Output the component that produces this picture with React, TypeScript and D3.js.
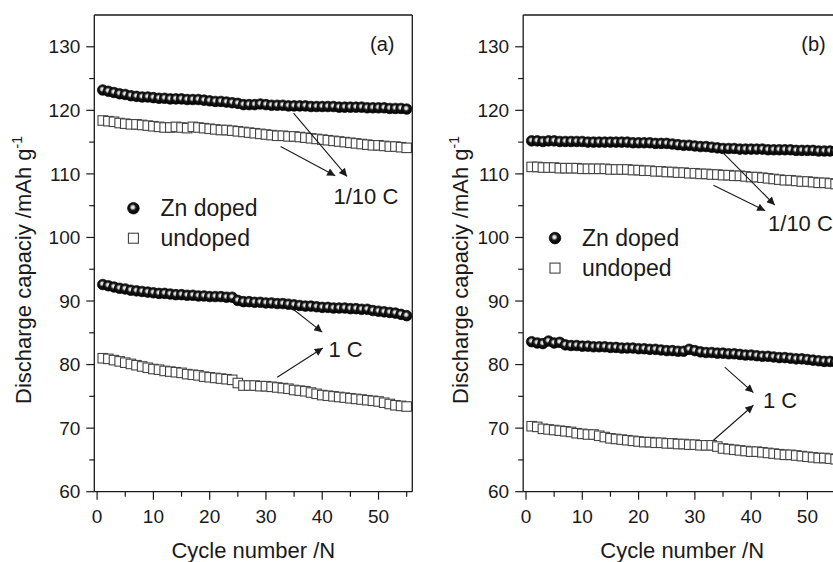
import React from "react";
import * as d3 from "d3";

// ---------- data ----------
const cycles = Array.from({ length: 55 }, (_, i) => i + 1);

const aZn10 = [123.2,123.0,122.8,122.6,122.5,122.3,122.2,122.1,122.1,122.0,
 121.9,121.9,121.8,121.8,121.8,121.7,121.7,121.7,121.6,121.5,
 121.4,121.4,121.3,121.2,121.1,120.9,120.9,120.9,121.0,120.9,
 120.8,120.8,120.8,120.7,120.7,120.7,120.7,120.6,120.6,120.6,
 120.6,120.6,120.5,120.5,120.5,120.5,120.5,120.4,120.4,120.4,
 120.4,120.3,120.3,120.3,120.2];
const aUn10 = [118.4,118.3,118.2,118.0,117.9,117.8,117.8,117.7,117.6,117.5,
 117.4,117.3,117.3,117.4,117.3,117.2,117.4,117.3,117.2,117.1,
 117.0,116.9,116.9,116.8,116.7,116.6,116.5,116.4,116.3,116.2,
 116.1,116.0,116.0,115.9,115.9,115.8,115.7,115.6,115.5,115.4,
 115.3,115.2,115.1,115.0,114.9,114.8,114.7,114.6,114.5,114.5,
 114.4,114.3,114.3,114.2,114.1];
const aZn1 = [92.6,92.4,92.2,92.0,91.9,91.7,91.6,91.5,91.4,91.3,
 91.2,91.2,91.1,91.0,91.0,90.9,90.9,90.8,90.8,90.7,
 90.7,90.7,90.6,90.6,90.1,89.9,89.9,89.8,89.8,89.7,
 89.7,89.6,89.6,89.5,89.4,89.3,89.2,89.2,89.1,89.0,
 89.0,88.9,88.9,88.9,88.8,88.8,88.7,88.7,88.5,88.4,
 88.3,88.2,88.1,87.9,87.7];
const aUn1 = [81.0,80.9,80.7,80.5,80.3,80.1,79.9,79.7,79.5,79.3,
 79.2,79.0,78.9,78.8,78.7,78.5,78.4,78.3,78.1,78.0,
 77.9,77.8,77.7,77.6,77.1,76.7,76.7,76.7,76.6,76.6,
 76.5,76.4,76.3,76.2,76.0,75.9,75.8,75.6,75.4,75.2,
 75.1,75.0,74.9,74.8,74.7,74.6,74.5,74.4,74.3,74.2,
 74.0,73.8,73.6,73.5,73.4];

const bZn10 = [115.2,115.2,115.1,115.2,115.2,115.1,115.1,115.1,115.1,115.1,
 115.0,115.0,115.0,115.0,115.0,115.0,115.0,115.0,114.9,114.9,
 114.9,114.9,114.8,114.8,114.8,114.7,114.6,114.5,114.5,114.4,
 114.3,114.3,114.2,114.1,114.0,114.0,114.0,113.9,113.9,113.9,
 113.9,113.9,113.8,113.8,113.8,113.8,113.8,113.7,113.7,113.7,
 113.7,113.6,113.6,113.6,113.6];
const bUn10 = [111.1,111.1,111.0,111.0,111.0,110.9,110.9,110.9,110.9,110.8,
 110.8,110.8,110.8,110.8,110.7,110.7,110.7,110.7,110.6,110.6,
 110.5,110.5,110.4,110.4,110.3,110.3,110.2,110.2,110.1,110.1,
 110.0,110.0,109.9,109.9,109.8,109.8,109.7,109.7,109.6,109.5,
 109.5,109.4,109.3,109.2,109.1,109.0,109.0,108.9,108.8,108.8,
 108.7,108.6,108.6,108.5,108.4];
const bZn1 = [83.6,83.4,83.3,83.7,83.4,83.5,83.1,83.0,83.0,82.9,
 82.9,82.8,82.8,82.8,82.7,82.7,82.6,82.6,82.6,82.5,
 82.5,82.4,82.4,82.3,82.2,82.2,82.1,82.1,82.4,82.2,
 82.0,81.9,81.9,81.8,81.8,81.7,81.7,81.6,81.5,81.5,
 81.4,81.3,81.3,81.2,81.1,81.1,81.0,80.9,80.9,80.8,
 80.7,80.6,80.5,80.5,80.4];
const bUn1 = [70.3,70.2,69.9,69.8,69.7,69.6,69.5,69.4,69.2,69.1,
 69.0,69.0,68.8,68.6,68.4,68.3,68.2,68.1,68.0,67.9,
 67.8,67.8,67.7,67.7,67.6,67.6,67.5,67.5,67.4,67.4,
 67.3,67.3,67.3,67.1,66.8,66.7,66.6,66.5,66.4,66.3,
 66.3,66.2,66.1,66.0,65.9,65.8,65.8,65.7,65.6,65.5,
 65.4,65.3,65.3,65.2,65.1];

const xMajorTicks = [0, 10, 20, 30, 40, 50];
const xMinorTicks = [5, 15, 25, 35, 45, 55];
const yMajorTicks = [60, 70, 80, 90, 100, 110, 120, 130];
const yMinorTicks = [65, 75, 85, 95, 105, 115, 125];

const legendLabels = ["Zn doped", "undoped"];
const xTitle = "Cycle number /N";
const yTitle = "Discharge capaciy /mAh g";

// annotations in data units: [x1,y1,x2,y2]
const aArrows = [
  [34.9, 119.55, 44.4, 109.6],
  [32.6, 114.3, 42.3, 109.7],
  [34.0, 89.3, 40.0, 85.1],
  [32.0, 78.0, 40.1, 82.6],
];
const bArrows = [
  [34.8, 113.5, 44.2, 105.1],
  [33.3, 108.2, 42.5, 104.2],
  [35.3, 79.6, 40.4, 75.6],
  [33.3, 68.1, 40.4, 73.6],
];
const aTexts = [
  { t: "(a)", x: 48.5, y: 129.3, s: 20 },
  { t: "1/10 C", x: 42.0, y: 105.3, s: 22 },
  { t: "1 C", x: 41.1, y: 81.2, s: 22 },
];
const bTexts = [
  { t: "(b)", x: 48.9, y: 129.3, s: 20 },
  { t: "1/10 C", x: 43.0, y: 101.0, s: 22 },
  { t: "1 C", x: 42.1, y: 73.2, s: 22 },
];

const FONT = "'Liberation Sans', Arial, Helvetica, sans-serif";
const X_DOMAIN = [-0.5, 56];
const Y_DOMAIN = [60, 135];
const INK = "#1a1a1a";

function Panel({ left, zn10, un10, zn1, un1, arrows, texts, legend, yTitleX }) {
  const width = 318;
  const top = 15;
  const bottom = 491.7;
  const x = d3.scaleLinear().domain(X_DOMAIN).range([left, left + width]);
  const y = d3.scaleLinear().domain(Y_DOMAIN).range([bottom, top]);
  const sq = 9.5;
  const r = 5.3;

  const squares = (vals) =>
    vals.map((v, i) => (
      <rect key={i} x={x(cycles[i]) - sq / 2} y={y(v) - sq / 2} width={sq} height={sq}
        fill="#fff" stroke="#444" strokeWidth={1.1} />
    ));
  const spheres = (vals) =>
    vals.map((v, i) => (
      <circle key={i} cx={x(cycles[i])} cy={y(v)} r={r} fill="url(#sphere)" stroke="#000" strokeWidth={0.7} />
    ));

  return (
    <g>
      <g>{squares(un10)}</g>
      <g>{squares(un1)}</g>
      <g>{spheres(zn10)}</g>
      <g>{spheres(zn1)}</g>

      <line x1={left} x2={left + width} y1={top} y2={top} stroke={INK} strokeWidth={1.3} />
      <line x1={left + width} x2={left + width} y1={top} y2={bottom} stroke={INK} strokeWidth={1.3} />
      <line x1={left} x2={left} y1={top} y2={bottom} stroke={INK} strokeWidth={1.3} />
      <line x1={left} x2={left + width} y1={bottom} y2={bottom} stroke={INK} strokeWidth={1.3} />

      {yMajorTicks.map((t) => (
        <g key={"ym" + t}>
          <line x1={left - 8} x2={left} y1={y(t)} y2={y(t)} stroke={INK} strokeWidth={1.2} />
          <text x={left - 14} y={y(t)} dy="0.35em" textAnchor="end" fontSize={19} fill={INK} fontFamily={FONT}>{t}</text>
        </g>
      ))}
      {yMinorTicks.map((t) => (
        <line key={"yn" + t} x1={left - 5} x2={left} y1={y(t)} y2={y(t)} stroke={INK} strokeWidth={1.2} />
      ))}
      {xMajorTicks.map((t) => (
        <g key={"xm" + t}>
          <line x1={x(t)} x2={x(t)} y1={bottom} y2={bottom + 8} stroke={INK} strokeWidth={1.2} />
          <text x={x(t)} y={bottom + 31} textAnchor="middle" fontSize={19} fill={INK} fontFamily={FONT}>{t}</text>
        </g>
      ))}
      {xMinorTicks.map((t) => (
        <line key={"xn" + t} x1={x(t)} x2={x(t)} y1={bottom} y2={bottom + 5} stroke={INK} strokeWidth={1.2} />
      ))}

      <text x={left + width / 2} y={558} textAnchor="middle" fontSize={22} fill={INK} fontFamily={FONT}>{xTitle}</text>
      <text transform={`translate(${yTitleX},270) rotate(-90)`} textAnchor="middle" fontSize={22} fill={INK} fontFamily={FONT}>
        {yTitle}
        <tspan fontSize={14} dy={-9}>-1</tspan>
      </text>

      <circle cx={x(legend.x)} cy={y(legend.y)} r={5.8} fill="url(#sphere)" stroke="#000" strokeWidth={0.7} />
      <text x={x(legend.x) + 27} y={y(legend.y) + 8} fontSize={23} fill={INK} fontFamily={FONT}>{legendLabels[0]}</text>
      <rect x={x(legend.x) - 5} y={y(legend.y) + 25} width={10} height={10} fill="#fff" stroke="#444" strokeWidth={1.1} />
      <text x={x(legend.x) + 27} y={y(legend.y) + 38} fontSize={23} fill={INK} fontFamily={FONT}>{legendLabels[1]}</text>

      {arrows.map((a, i) => (
        <line key={"ar" + i} x1={x(a[0])} y1={y(a[1])} x2={x(a[2])} y2={y(a[3])} stroke={INK} strokeWidth={1.1} markerEnd="url(#arrowhead)" />
      ))}
      {texts.map((t, i) => (
        <text key={"tx" + i} x={x(t.x)} y={y(t.y)} fontSize={t.s} fill={INK} fontFamily={FONT}>{t.t}</text>
      ))}
    </g>
  );
}

export default function App() {
  return (
    <svg width={833} height={562} style={{ position: "absolute", left: 0, top: 0, background: "#fff" }}>
      <defs>
        <radialGradient id="sphere" cx="45%" cy="42%" r="55%">
          <stop offset="0%" stopColor="#ffffff" />
          <stop offset="22%" stopColor="#d0d0d0" />
          <stop offset="50%" stopColor="#1a1a1a" />
          <stop offset="100%" stopColor="#000" />
        </radialGradient>
        <marker id="arrowhead" viewBox="0 0 10 10" refX="10" refY="5" markerUnits="userSpaceOnUse"
          markerWidth="11" markerHeight="8" orient="auto">
          <path d="M0,0 L10,5 L0,10 z" fill={INK} />
        </marker>
      </defs>
      <rect x={0} y={0} width={833} height={562} fill="#fff" />
      <Panel left={94.3} zn10={aZn10} un10={aUn10} zn1={aZn1} un1={aUn1}
        arrows={aArrows} texts={aTexts} legend={{ x: 6.45, y: 104.6 }} yTitleX={31} />
      <Panel left={523.2} zn10={bZn10} un10={bUn10} zn1={bZn1} un1={bUn1}
        arrows={bArrows} texts={bTexts} legend={{ x: 5.15, y: 99.9 }} yTitleX={468} />
    </svg>
  );
}
